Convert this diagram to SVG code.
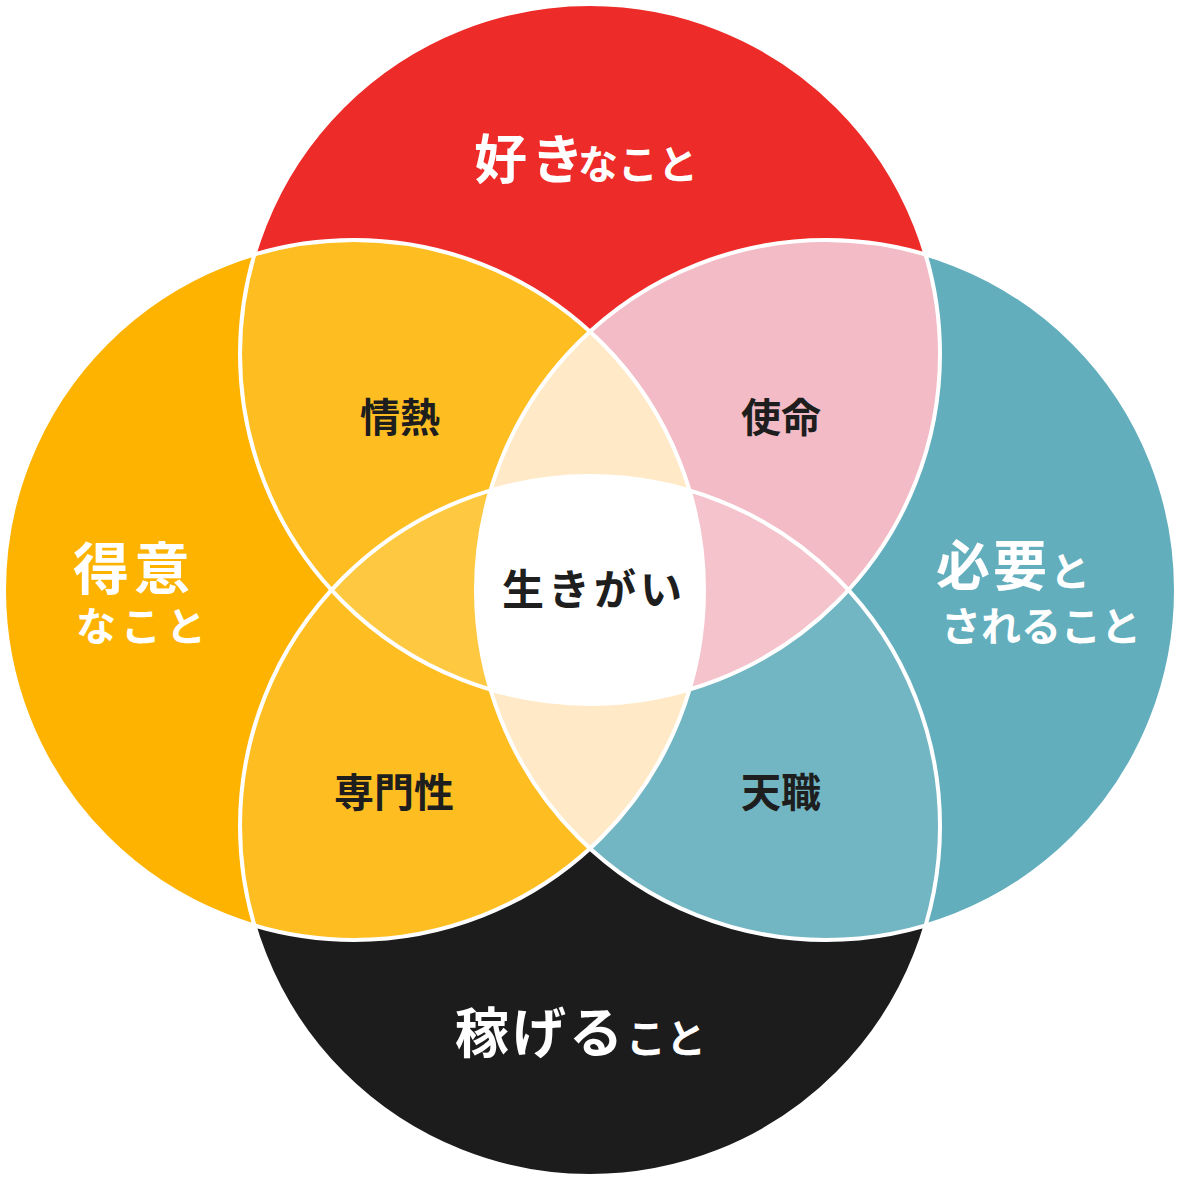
<svg xmlns="http://www.w3.org/2000/svg" width="1181" height="1181" viewBox="0 0 1181 1181">
<style>
text{font-family:"Noto Sans CJK JP","Noto Sans CJK SC",sans-serif;font-weight:700}
.big{font-size:54px;letter-spacing:3px}
.kana{font-size:40px}
.outer{fill:#ffffff}
.inner{fill:#1e1e1e;font-size:40px;text-anchor:middle}
.ring{fill:none;stroke:#ffffff;stroke-width:4}
</style>
<defs>
<circle id="cT" cx="590" cy="354" r="350"/>
<circle id="cL" cx="354" cy="590" r="350"/>
<circle id="cR" cx="826" cy="590" r="350"/>
<circle id="cB" cx="590" cy="826" r="350"/>
<clipPath id="kT"><use href="#cT"/></clipPath>
<clipPath id="kL"><use href="#cL"/></clipPath>
<clipPath id="kR"><use href="#cR"/></clipPath>
<clipPath id="kB"><use href="#cB"/></clipPath>
</defs>
<rect width="1181" height="1181" fill="#ffffff"/>
<g id="circles">
<use id="circle-top" href="#cT" fill="#ed2b28"/>
<use id="circle-left" href="#cL" fill="#fdb300"/>
<use id="circle-right" href="#cR" fill="#62aebd"/>
<use id="circle-bottom" href="#cB" fill="#1c1c1c"/>
</g>
<g id="pairs">
<g id="passion" clip-path="url(#kT)"><use href="#cL" fill="#febe22"/></g>
<g id="mission" clip-path="url(#kT)"><use href="#cR" fill="#f2bbc6"/></g>
<g id="profession" clip-path="url(#kB)"><use href="#cL" fill="#febe22"/></g>
<g id="vocation" clip-path="url(#kB)"><use href="#cR" fill="#72b6c3"/></g>
</g>
<g id="triples">
<g clip-path="url(#kT)"><g clip-path="url(#kL)"><use href="#cR" fill="#ffe9c6"/></g></g>
<g clip-path="url(#kL)"><g clip-path="url(#kR)"><use href="#cB" fill="#ffe9c6"/></g></g>
<g clip-path="url(#kT)"><g clip-path="url(#kB)"><use href="#cL" fill="#fec841"/></g></g>
<g clip-path="url(#kT)"><g clip-path="url(#kB)"><use href="#cR" fill="#f4c3cc"/></g></g>
<g id="ikigai-area" clip-path="url(#kT)"><g clip-path="url(#kB)"><g clip-path="url(#kL)"><use href="#cR" fill="#ffffff"/></g></g></g>
</g>
<g id="outlines">
<use href="#cT" class="ring"/>
<use href="#cL" class="ring"/>
<use href="#cR" class="ring"/>
<use href="#cB" class="ring"/>
</g>
<g id="labels-outer" class="outer">
<text id="label-top" x="474" y="179"><tspan style="font-size:53px;letter-spacing:4px">好き</tspan><tspan class="kana" dx="-10">なこと</tspan></text>
<g id="label-left"><text x="73" y="589" style="font-size:56px;letter-spacing:5px">得意</text><text x="76" y="641" class="kana" letter-spacing="5">なこと</text></g>
<g id="label-right"><text x="936" y="586"><tspan class="big">必要</tspan><tspan class="kana" dx="0">と</tspan></text><text x="941" y="641" class="kana">されること</text></g>
<text id="label-bottom" x="455" y="1053"><tspan class="big">稼げる</tspan><tspan class="kana" dx="0">こと</tspan></text>
</g>
<g id="labels-inner">
<text id="label-passion" class="inner" x="400" y="432">情熱</text>
<text id="label-mission" class="inner" x="781" y="432">使命</text>
<text id="label-profession" class="inner" x="394" y="807">専門性</text>
<text id="label-vocation" class="inner" x="781" y="807">天職</text>
<text id="label-ikigai" class="inner" x="594" y="605" style="font-size:42px;letter-spacing:4px">生きがい</text>
</g>
</svg>
